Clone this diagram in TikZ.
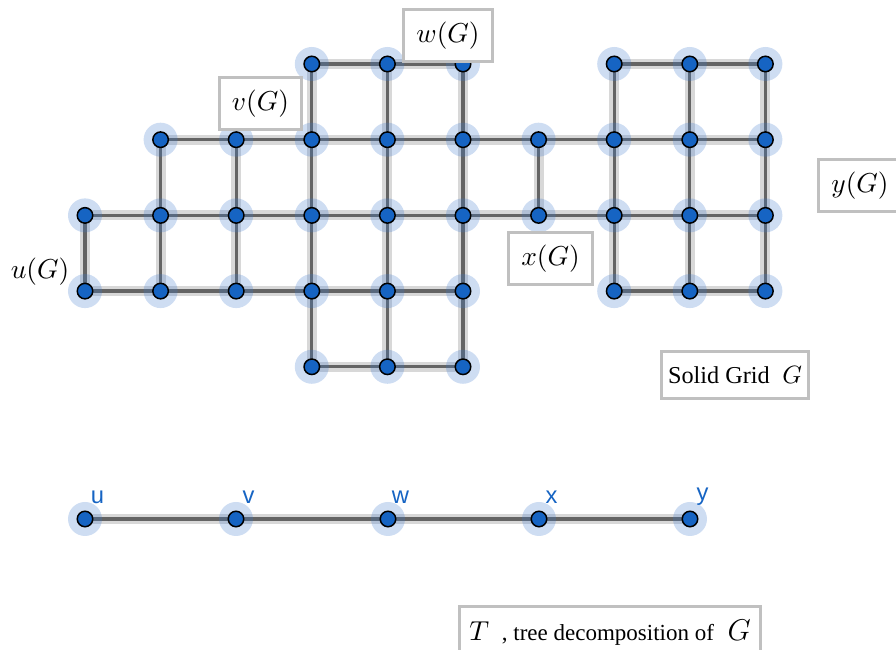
\documentclass[tikz,border=0pt]{standalone}
\usepackage{fontspec}
\newfontfamily\tnr{Liberation Serif}
\newfontfamily\lsans{Liberation Sans}
\pgfdeclarelayer{ebg}\pgfdeclarelayer{efg}\pgfdeclarelayer{halo}
\pgfsetlayers{ebg,efg,halo,main}
\definecolor{dotblue}{RGB}{22,100,195}
\definecolor{haloblue}{RGB}{60,120,205}
\definecolor{boxgray}{RGB}{192,192,192}
\definecolor{edgedark}{RGB}{100,100,100}
\definecolor{edgelight}{RGB}{216,216,216}
\begin{document}
\begin{tikzpicture}[x=0.4pt,y=-0.4pt,
 vtx/.style={circle, fill=dotblue, draw=black, line width=0.6pt, minimum size=6.2pt, inner sep=0pt},
 ecore/.style={draw=edgedark, line width=1.35pt},
 ehalo/.style={draw=edgelight, line width=4pt},
 lbox/.style={draw=boxgray, line width=1.2pt, fill=white, minimum height=20.8pt, inner xsep=5pt, font=\fontsize{11}{13}\selectfont},
 tlabel/.style={text=dotblue, font=\lsans\fontsize{9.5}{11}\selectfont, inner sep=0pt},
]
\useasboundingbox (0,0) rectangle (896,650);

% grid vertices
\foreach \c/\r in {3/0,4/0,5/0,7/0,8/0,9/0,
  1/1,2/1,3/1,4/1,5/1,6/1,7/1,8/1,9/1,
  0/2,1/2,2/2,3/2,4/2,5/2,6/2,7/2,8/2,9/2,
  0/3,1/3,2/3,3/3,4/3,5/3,7/3,8/3,9/3,
  3/4,4/4,5/4}{
  \node[vtx] (g\c-\r) at ({85+75.6*\c},{64+75.7*\r}) {};
  \begin{pgfonlayer}{halo}
    \fill[haloblue, fill opacity=0.25] (g\c-\r.center) circle (6.8pt);
  \end{pgfonlayer}
}

% grid edges
\foreach \a/\b in {g3-0/g4-0,g4-0/g5-0,g7-0/g8-0,g8-0/g9-0,
  g1-1/g2-1,g2-1/g3-1,g3-1/g4-1,g4-1/g5-1,g5-1/g6-1,g6-1/g7-1,g7-1/g8-1,g8-1/g9-1,
  g0-2/g1-2,g1-2/g2-2,g2-2/g3-2,g3-2/g4-2,g4-2/g5-2,g5-2/g6-2,g6-2/g7-2,g7-2/g8-2,g8-2/g9-2,
  g0-3/g1-3,g1-3/g2-3,g2-3/g3-3,g3-3/g4-3,g4-3/g5-3,g7-3/g8-3,g8-3/g9-3,
  g3-4/g4-4,g4-4/g5-4,
  g3-0/g3-1,g4-0/g4-1,g5-0/g5-1,g7-0/g7-1,g8-0/g8-1,g9-0/g9-1,
  g1-1/g1-2,g2-1/g2-2,g3-1/g3-2,g4-1/g4-2,g5-1/g5-2,g6-1/g6-2,g7-1/g7-2,g8-1/g8-2,g9-1/g9-2,
  g0-2/g0-3,g1-2/g1-3,g2-2/g2-3,g3-2/g3-3,g4-2/g4-3,g5-2/g5-3,g7-2/g7-3,g8-2/g8-3,g9-2/g9-3,
  g3-3/g3-4,g4-3/g4-4,g5-3/g5-4}{
  \begin{pgfonlayer}{ebg}\draw[ehalo] (\a.center) -- (\b.center);\end{pgfonlayer}
  \begin{pgfonlayer}{efg}\draw[ecore] (\a.center) -- (\b.center);\end{pgfonlayer}
}

% tree vertices
\foreach \n/\x in {u/85,v/236,w/388,x/539,y/690}{
  \node[vtx] (t\n) at (\x,519) {};
  \begin{pgfonlayer}{halo}
    \fill[haloblue, fill opacity=0.25] (t\n.center) circle (6.8pt);
  \end{pgfonlayer}
  \node[tlabel] (l\n) at (\x+12.5,497) {\n};
}
\foreach \a/\b in {tu/tv,tv/tw,tw/tx,tx/ty}{
  \begin{pgfonlayer}{ebg}\draw[ehalo] (\a.center) -- (\b.center);\end{pgfonlayer}
  \begin{pgfonlayer}{efg}\draw[ecore] (\a.center) -- (\b.center);\end{pgfonlayer}
}

% labels
\node[lbox] (lv) at (260.5,104) {$v(G)$};
\node[lbox] (lw) at (448,36) {$w(G)$};
\node[lbox] (lx) at (550.5,259) {$x(G)$};
\node[lbox] (ly) at (860,186) {$y(G)$};
\node[font=\fontsize{11}{13}\selectfont, inner sep=0pt] (lu) at (40,272) {$u(G)$};
\node[lbox, minimum height=18.8pt, inner xsep=2.5pt, font=\normalsize] (lsolid) at (735,375.5)
  {{\tnr\fontsize{9.7}{12}\selectfont Solid Grid}\ \,$G$};
\node[lbox, inner xsep=4pt, font=\fontsize{11}{13}\selectfont] (ltree) at (610,633)
  {$T$ {\tnr\fontsize{9.2}{11}\selectfont\,, tree decomposition of}\ \,{\fontsize{12}{14}\selectfont$G$}};
\end{tikzpicture}
\end{document}
